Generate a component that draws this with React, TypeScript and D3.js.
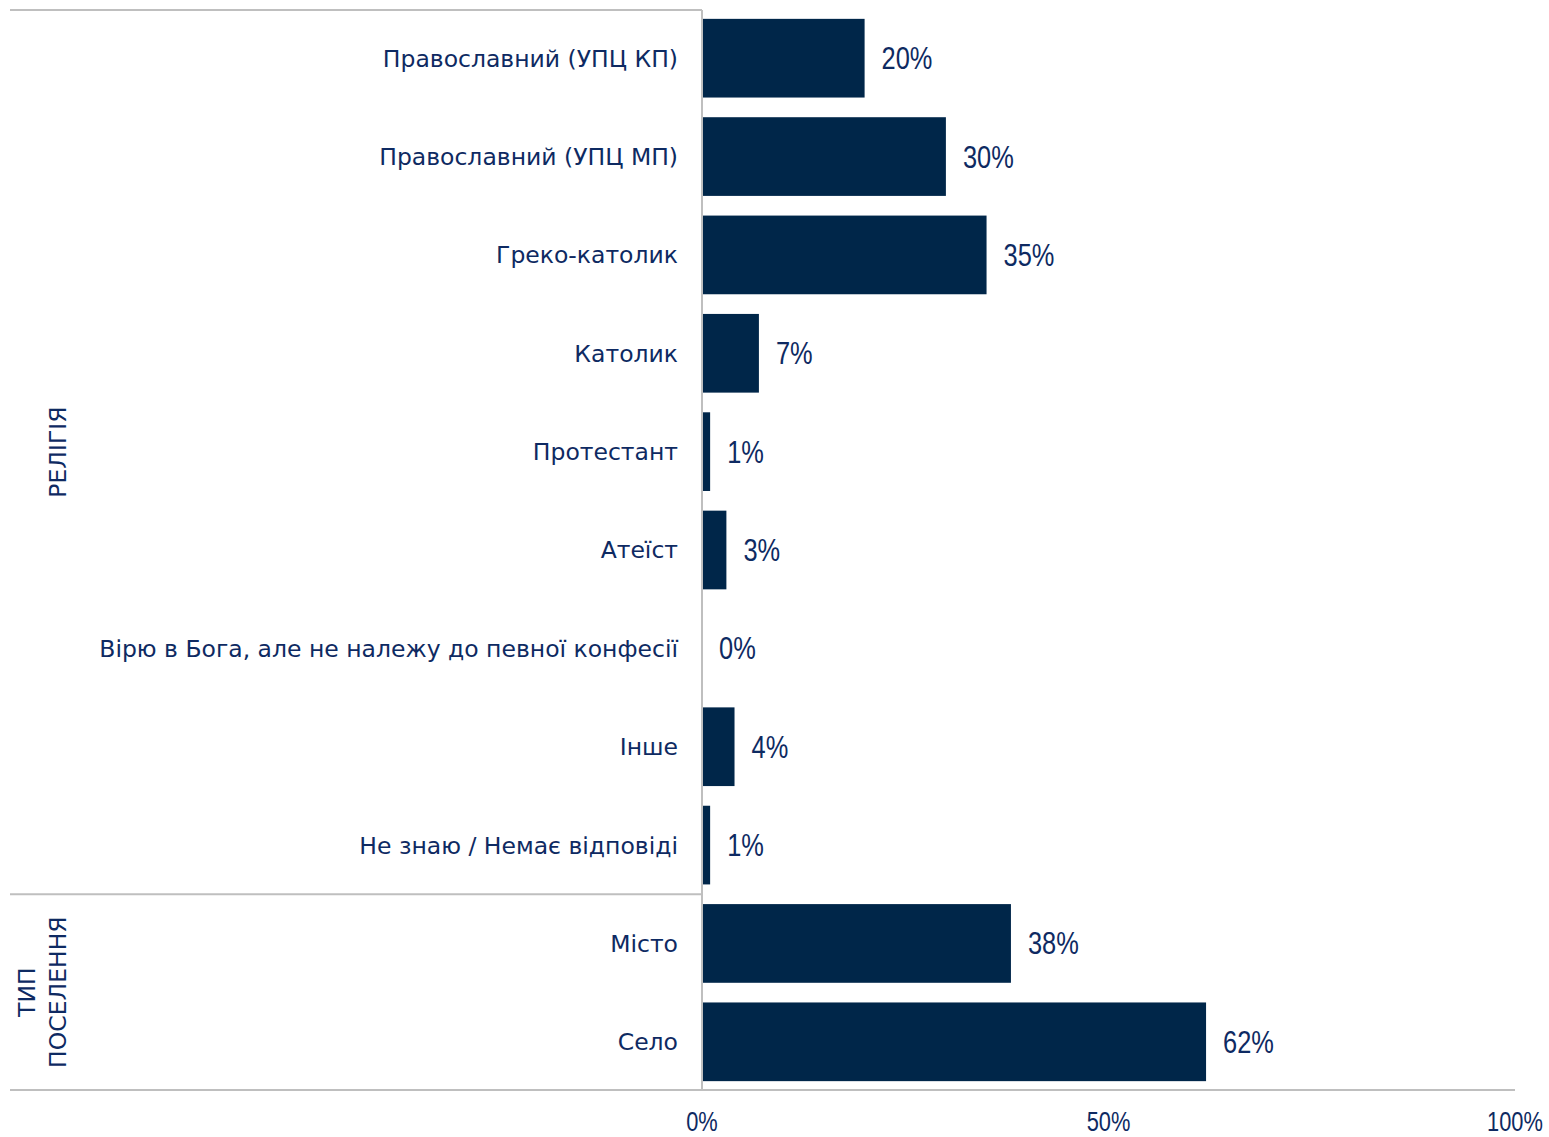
import React from "react";
import * as d3 from "d3";

const categories = [
  "Православний (УПЦ КП)",
  "Православний (УПЦ МП)",
  "Греко-католик",
  "Католик",
  "Протестант",
  "Атеїст",
  "Вірю в Бога, але не належу до певної конфесії",
  "Інше",
  "Не знаю / Немає відповіді",
  "Місто",
  "Село",
];
const values = [20, 30, 35, 7, 1, 3, 0, 4, 1, 38, 62];
const groups = [
  { lines: ["РЕЛІГІЯ"], from: 0, to: 8 },
  { lines: ["ТИП", "ПОСЕЛЕННЯ"], from: 9, to: 10 },
];
const ticks = [0, 50, 100];

const W = 1549;
const H = 1137;
const X0 = 702;
const X1 = 1515;
const TOP = 10;
const BOTTOM = 1090;
const LEFT = 10;
const NAVY = "#002649";
const TEXT = "#0e2a62";
const GRID = "#bfbfbf";
const LABEL_FONT = "'DejaVu Sans', Verdana, sans-serif";
const NUM_FONT = "'Liberation Sans', Arial, sans-serif";

export default function App() {
  const x = d3.scaleLinear().domain([0, 100]).range([X0, X1]);
  const y = d3
    .scaleBand<number>()
    .domain(d3.range(categories.length))
    .range([TOP, BOTTOM])
    .paddingInner(0.2)
    .paddingOuter(0.09);
  const step = y.step();
  const sepY = (y(9) as number) - (step - y.bandwidth()) / 2;
  const centers = [(TOP + sepY) / 2, (sepY + BOTTOM) / 2];

  return (
    <svg
      width={W}
      height={H}
      style={{ position: "absolute", left: 0, top: 0, background: "#fff" }}
    >
      {values.map((v, i) => (
        <rect
          key={"b" + i}
          x={x(0)}
          y={y(i)}
          width={x(v) - x(0)}
          height={y.bandwidth()}
          fill={NAVY}
        />
      ))}
      {categories.map((c, i) => (
        <text
          key={"c" + i}
          x={678}
          y={(y(i) as number) + y.bandwidth() / 2}
          dy="0.36em"
          textAnchor="end"
          fontFamily={LABEL_FONT}
          fontSize={23.5}
          fill={TEXT}
        >
          {c}
        </text>
      ))}
      {values.map((v, i) => (
        <text
          key={"v" + i}
          transform={`translate(${x(v) + 17},${(y(i) as number) + y.bandwidth() / 2 + 11}) scale(0.82,1)`}
          fontFamily={NUM_FONT}
          fontSize={31}
          fill={TEXT}
        >
          {v}%
        </text>
      ))}
      {/* lines */}
      <line x1={LEFT} x2={X0} y1={TOP} y2={TOP} stroke={GRID} strokeWidth={2} />
      <line x1={X0} x2={X0} y1={TOP} y2={BOTTOM} stroke={GRID} strokeWidth={2} />
      <line x1={LEFT} x2={X0} y1={sepY} y2={sepY} stroke={GRID} strokeWidth={2} />
      <line x1={LEFT} x2={X1} y1={BOTTOM} y2={BOTTOM} stroke={GRID} strokeWidth={2} />
      {ticks.map((t) => (
        <text
          key={"t" + t}
          transform={`translate(${x(t)},1131) scale(0.78,1)`}
          textAnchor="middle"
          fontFamily={NUM_FONT}
          fontSize={28}
          fill={TEXT}
        >
          {t}%
        </text>
      ))}
      {groups.map((g, gi) => {
        const n = g.lines.length;
        return (
          <text
            key={"g" + gi}
            transform={`translate(${58 - (n - 1) * 31},${centers[gi]}) rotate(-90)`}
            textAnchor="middle"
            fontFamily={LABEL_FONT}
            fontSize={23.5}
            fill={TEXT}
          >
            {g.lines.map((l, li) => (
              <tspan key={li} x={0} dy={li === 0 ? "0.36em" : 31}>
                {l}
              </tspan>
            ))}
          </text>
        );
      })}
    </svg>
  );
}
